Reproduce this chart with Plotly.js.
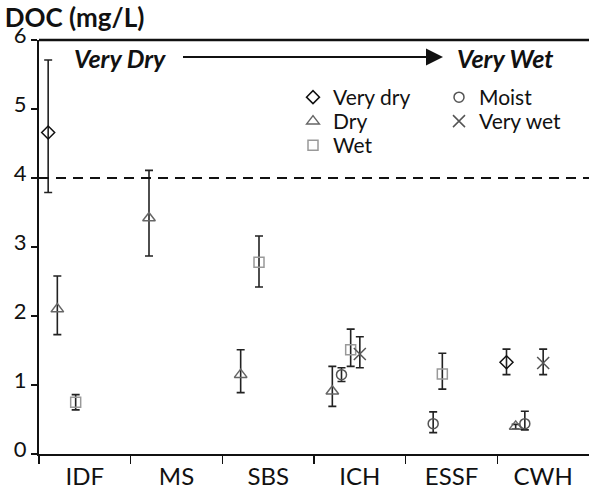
<!DOCTYPE html>
<html>
<head>
<meta charset="utf-8">
<script src="https://cdn.plot.ly/plotly-3.0.1.min.js"></script>
<style>html,body{margin:0;padding:0;background:#fff;}#chart{width:589px;height:493px;}</style>
</head>
<body>
<div id="chart"></div>
<script>
// ---- data ----
const categories = ['IDF', 'MS', 'SBS', 'ICH', 'ESSF', 'CWH'];
const seriesNames = ['Very dry', 'Dry', 'Moist', 'Wet', 'Very wet'];

const veryDryMean  = [4.66, null, null, null, null, 1.33];
const veryDryUpper = [5.71, null, null, null, null, 1.52];
const veryDryLower = [3.79, null, null, null, null, 1.15];

const dryMean  = [2.10, 3.42, 1.15, 0.91, null, 0.40];
const dryUpper = [2.58, 4.11, 1.51, 1.27, null, 0.43];
const dryLower = [1.73, 2.87, 0.89, 0.69, null, 0.36];

const moistMean  = [null, null, null, 1.15, 0.44, 0.44];
const moistUpper = [null, null, null, 1.25, 0.61, 0.62];
const moistLower = [null, null, null, 1.05, 0.31, 0.35];

const wetMean  = [0.75, null, 2.78, 1.51, 1.16, null];
const wetUpper = [0.86, null, 3.16, 1.81, 1.46, null];
const wetLower = [0.64, null, 2.42, 1.27, 0.94, null];

const veryWetMean  = [null, null, null, 1.45, null, 1.32];
const veryWetUpper = [null, null, null, 1.70, null, 1.52];
const veryWetLower = [null, null, null, 1.25, null, 1.15];

const thresholdValue = 4;
const yTicks = [0, 1, 2, 3, 4, 5, 6];

// ---- styles / positions ----
const FONT = 'Lato, "Open Sans", sans-serif';
const px = v => (v - 39) / 550;      // helper: pixel -> paper x
const py = v => (454 - v) / 414;     // helper: pixel -> paper y

const styles = [
  {mean: veryDryMean, up: veryDryUpper, lo: veryDryLower, offset: -0.4, symbol: 'diamond-open', size: 10, color: '#111', legend: 'legend',  lx: 293, ly: 77},
  {mean: dryMean,     up: dryUpper,     lo: dryLower,     offset: -0.3, symbol: 'triangle-up-open', size: 11, color: '#666', legend: 'legend2', lx: 293, ly: 101},
  {mean: moistMean,   up: moistUpper,   lo: moistLower,   offset: -0.2, symbol: 'circle-open', size: 10, color: '#555', legend: 'legend3', lx: 439, ly: 77},
  {mean: wetMean,     up: wetUpper,     lo: wetLower,     offset: -0.1, symbol: 'square-open', size: 10, color: '#999', legend: 'legend4', lx: 293, ly: 125},
  {mean: veryWetMean, up: veryWetUpper, lo: veryWetLower, offset: 0.0,  symbol: 'x-thin-open', size: 12, color: '#555', legend: 'legend5', lx: 439, ly: 101}
];

const traces = styles.map((s, k) => {
  const x = [], y = [], ep = [], em = [];
  categories.forEach((c, i) => {
    if (s.mean[i] !== null) {
      x.push(i + s.offset);
      y.push(s.mean[i]);
      ep.push(s.up[i] - s.mean[i]);
      em.push(s.mean[i] - s.lo[i]);
    }
  });
  return {
    type: 'scatter', mode: 'markers', name: seriesNames[k],
    x: x, y: y, legend: s.legend,
    marker: {symbol: s.symbol, size: s.size, color: s.color, line: {color: s.color, width: 1.5}},
    error_y: {type: 'data', symmetric: false, array: ep, arrayminus: em, color: '#222', thickness: 1.6, width: 4},
    cliponaxis: false
  };
});

const boundaries = categories.map((c, i) => i - 0.5);

const layout = {
  width: 589, height: 493,
  margin: {l: 39, r: 0, t: 40, b: 39},
  paper_bgcolor: '#fff', plot_bgcolor: '#fff',
  font: {family: FONT, color: '#111'},
  title: {text: '<b>DOC (mg/L)</b>', font: {family: FONT, size: 26, color: '#111'},
          xref: 'container', x: 0.008, xanchor: 'left', yref: 'container', y: 1 - 17.5 / 493, yanchor: 'middle'},
  xaxis: {
    range: [-0.5, categories.length - 0.5], tickmode: 'array',
    tickvals: categories.map((c, i) => i), ticktext: categories,
    ticks: '', showgrid: false, zeroline: false,
    showline: true, linecolor: '#111', linewidth: 2,
    tickfont: {family: FONT, size: 24, color: '#111'},
    minor: {tickmode: 'array', tickvals: boundaries, ticks: 'outside', ticklen: 8, tickwidth: 1.5, tickcolor: '#111', showgrid: false}
  },
  yaxis: {
    range: [0, 6], tickmode: 'array', tickvals: yTicks,
    ticks: 'outside', ticklen: 6, tickwidth: 1.5, tickcolor: '#111',
    showgrid: false, zeroline: false, showline: true, linecolor: '#111', linewidth: 2,
    ticklabelshift: -5,
    tickfont: {family: FONT, size: 22, color: '#111'}
  },
  showlegend: true,
  shapes: [
    {type: 'line', xref: 'paper', x0: 0, x1: 1, yref: 'y', y0: thresholdValue, y1: thresholdValue,
     line: {color: '#111', width: 2, dash: '10px,7px'}},
    {type: 'line', xref: 'paper', x0: 0, x1: 1, yref: 'paper', y0: 1, y1: 1,
     line: {color: '#111', width: 2.5}}
  ],
  annotations: [
    {xref: 'paper', yref: 'paper', x: px(72), y: py(58), xanchor: 'left', yanchor: 'middle',
     text: '<b><i>Very Dry</i></b>', showarrow: false, font: {family: FONT, size: 25, color: '#111'}},
    {xref: 'paper', yref: 'paper', x: px(455), y: py(58), xanchor: 'left', yanchor: 'middle',
     text: '<b><i>Very Wet</i></b>', showarrow: false, font: {family: FONT, size: 25, color: '#111'}},
    {xref: 'paper', yref: 'paper', x: px(443), y: py(57), showarrow: true, axref: 'pixel', ayref: 'pixel',
     ax: -(443 - 180), ay: 0, arrowhead: 2, arrowsize: 1.7, arrowwidth: 2, arrowcolor: '#111', standoff: 0, startstandoff: 0}
  ]
};

styles.forEach(s => {
  layout[s.legend] = {x: px(s.lx), y: py(s.ly), xanchor: 'left', yanchor: 'top', bgcolor: 'rgba(0,0,0,0)',
                      font: {family: FONT, size: 21, color: '#111'}, borderwidth: 0};
});

Plotly.newPlot('chart', traces, layout, {displayModeBar: false, staticPlot: true});
</script>
</body>
</html>
